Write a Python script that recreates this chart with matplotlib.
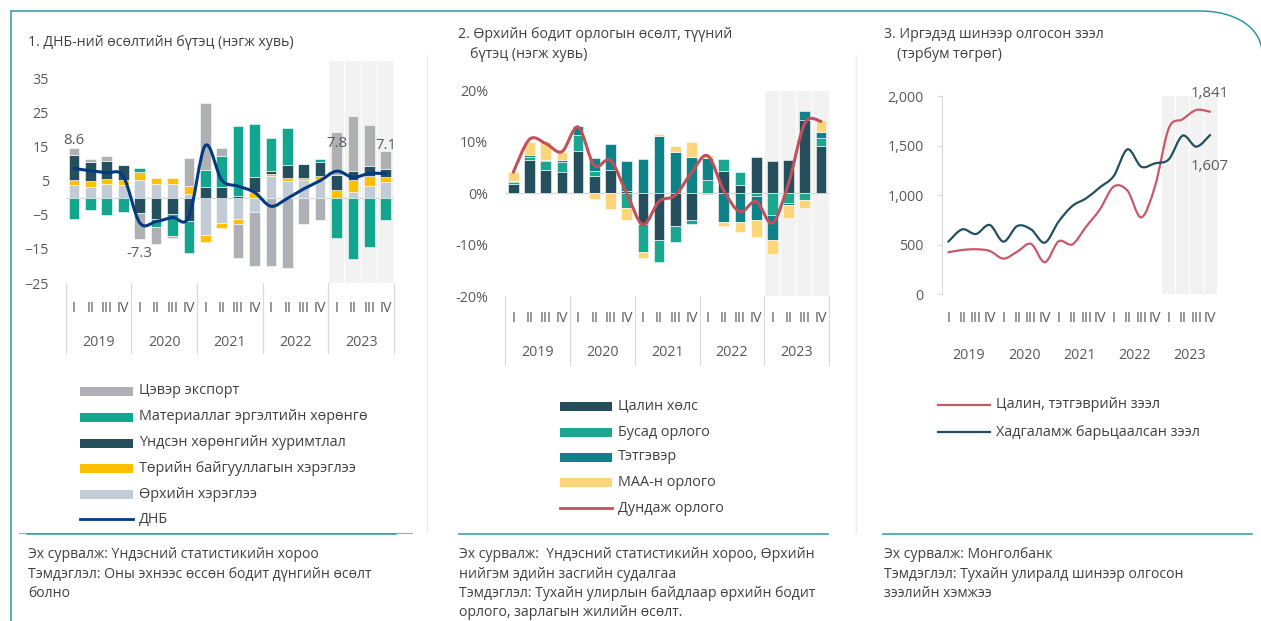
import numpy as np
import matplotlib
matplotlib.use('Agg')
import matplotlib.pyplot as plt
from matplotlib.path import Path
from matplotlib.patches import PathPatch, Rectangle
from matplotlib.lines import Line2D
import matplotlib.transforms as mtransforms

plt.rcParams['font.family'] = ['Open Sans', 'Noto Sans', 'DejaVu Sans']

# ---------------- data ----------------
quarters = ['I', 'II', 'III', 'IV']
years = ['2019', '2020', '2021', '2022', '2023']
highlight_year = '2023'

# Panel 1: GDP growth contributions (pp)
p1_labels = ['Цэвэр экспорт', 'Материаллаг эргэлтийн хөрөнгө', 'Үндсэн хөрөнгийн хуримтлал',
             'Төрийн байгууллагын хэрэглээ', 'Өрхийн хэрэглээ', 'ДНБ']
household = [3.7, 3.2, 3.9, 3.7, 5.3, 4.1, 3.9, 1.2, -10.8, -7.3, -6.2, -4.1, 6.4, 4.9, 5.1, 5.2, 0.0, 1.7, 3.3, 4.7]
government = [1.5, 1.7, 1.7, 1.6, 2.1, 1.7, 1.8, 2.2, -2.2, -1.5, -1.6, 1.6, 0.7, 1.0, 0.8, 1.2, 2.3, 3.5, 3.2, 1.3]
fixed_capital = [7.4, 5.5, 5.1, 4.2, -4.6, -6.1, -4.8, -6.7, 3.0, 3.0, 0.6, 4.6, 0.7, 3.8, 4.1, 4.0, 4.4, 2.7, 2.8, 2.3]
inventories = [-6.3, -3.6, -5.1, -4.1, 1.3, -2.6, -6.4, -9.6, 5.2, 9.3, 20.3, 15.5, 9.8, 10.6, 0.0, 0.9, -11.8, -18.1, -14.4, -6.6]
net_exports = [1.9, 0.9, 1.4, 0.0, -7.5, -4.8, -0.7, 8.2, 19.6, 2.3, -9.9, -15.9, -20.1, -20.5, -7.6, -6.6, 12.6, 16.1, 11.9, 5.3]
gdp = [8.6, 7.9, 7.3, 6.3, -7.3, -7.0, -5.8, -5.6, 15.3, 5.2, 3.4, 1.6, -2.5, -0.2, 2.6, 5.0, 7.8, 6.0, 7.1, 7.1]
gdp_labels = {0: '8.6', 4: '-7.3', 16: '7.8', 19: '7.1'}

# Panel 2: household real income growth contributions (%)
p2_labels = ['Цалин хөлс', 'Бусад орлого', 'Тэтгэвэр', 'МАА-н орлого', 'Дундаж орлого']
wages = [1.75, 6.5, 4.6, 4.1, 8.2, 3.4, 4.5, 0.5, -6.0, -9.1, -6.4, -5.3, -0.2, 4.4, 1.6, 7.0, 6.2, 6.4, 14.3, 9.2]
other_income = [0.4, 0.5, 1.6, 1.9, 3.1, 1.0, 0.0, -2.9, -5.4, -4.2, -3.1, -0.6, 2.5, 2.3, 2.5, -0.5, -4.3, -1.9, -1.4, 1.6]
pension = [0.25, 0.45, 0.3, 0.5, 1.7, 2.5, 5.1, 5.8, 6.6, 11.2, 8.1, 7.1, 4.4, -5.6, -5.6, -4.7, -4.8, -0.3, 1.8, 1.1]
livestock = [1.8, 2.5, 3.4, 1.6, 0.0, -1.1, -3.1, -2.3, -1.3, 0.4, 1.1, 2.9, 0.6, -0.8, -1.9, -3.4, -2.7, -2.7, -1.5, 2.4]
avg_income = [4.1, 10.5, 9.7, 8.1, 12.9, 5.4, 6.4, 0.0, -6.1, -1.6, -0.4, 4.0, 7.3, 0.5, -3.6, -1.6, -5.8, 2.0, 13.6, 14.0]

# Panel 3: new consumer loans (bn MNT)
p3_labels = ['Цалин, тэтгэврийн зээл', 'Хадгаламж барьцаалсан зээл']
salary_loans = [424, 447, 454, 437, 360, 430, 508, 323, 534, 504, 682, 857, 1086, 1045, 776, 1090, 1674, 1765, 1859, 1841]
savings_loans = [531, 655, 608, 699, 531, 689, 655, 521, 733, 891, 968, 1079, 1193, 1462, 1287, 1321, 1361, 1600, 1489, 1607]

# ---------------- styles ----------------
C_NET = '#afb0b4'
C_INV = '#13a68f'
C_FIX = '#264f5e'
C_GOV = '#ffc000'
C_HH = '#c3cbd6'
C_GDP = '#003a80'

C_WAGE = '#264f5e'
C_OTH = '#1ba690'
C_PEN = '#0f8289'
C_LIV = '#ffd57a'
C_AVG = '#c0505a'

C_SAL = '#c8596a'
C_SAV = '#23505f'

TXT = '#404040'
TCK = '#595959'
TEAL = '#2b9aa0'
SHADE = '#f2f2f2'
SEP = '#d9d9d9'

FS_TITLE = 10.2
FS_LEG = 10.4
FS_FOOT = 10.1
FS_TICK = 10.3

W, H = 1261, 621
fig = plt.figure(figsize=(W / 100, H / 100), dpi=100)
PT = 72 / 100  # points per pixel


def rect(x0, y0, x1, y1):
    return [x0 / W, 1 - y1 / H, (x1 - x0) / W, (y1 - y0) / H]


def fx(x):
    return x / W


def fy(y):
    return 1 - y / H


def smooth_line(ax, x, y, color, lw):
    pts = np.column_stack([x, y]).astype(float)
    n = len(pts)
    verts = [pts[0]]
    codes = [Path.MOVETO]
    for i in range(n - 1):
        p0 = pts[i - 1] if i > 0 else pts[i]
        p1 = pts[i]
        p2 = pts[i + 1]
        p3 = pts[i + 2] if i + 2 < n else pts[i + 1]
        verts += [p1 + (p2 - p0) / 6, p2 - (p3 - p1) / 6, p2]
        codes += [Path.CURVE4] * 3
    patch = PathPatch(Path(verts, codes), fill=False, edgecolor=color, lw=lw,
                      capstyle='round', joinstyle='round', zorder=5)
    ax.add_patch(patch)


def stacked_bars(ax, x, series, colors, width):
    pos = np.zeros(len(x))
    neg = np.zeros(len(x))
    for vals, c in zip(series, colors):
        v = np.asarray(vals, dtype=float)
        bottom = np.where(v >= 0, pos, neg)
        ax.bar(x, v, bottom=bottom, width=width, color=c, edgecolor='white', linewidth=0.4, zorder=3)
        pos += np.clip(v, 0, None)
        neg += np.clip(v, None, 0)


def shade(ax, ylo, yhi, width=0.93):
    idx = [i for i in range(len(years) * 4) if years[i // 4] == highlight_year]
    ax.bar(idx, [yhi - ylo] * len(idx), bottom=ylo, width=width, color=SHADE, zorder=0, linewidth=0)


def category_axis(ax, ax_h, q_off, y_off, sep_len, fs=FS_TICK):
    trans = mtransforms.blended_transform_factory(ax.transData, ax.transAxes)
    for i in range(len(years) * 4):
        ax.annotate(quarters[i % 4], xy=(i, 0), xycoords=trans, xytext=(0, -q_off * PT),
                    textcoords='offset points', ha='center', va='center', fontsize=fs, color=TCK)
    for k, yr in enumerate(years):
        ax.annotate(yr, xy=(4 * k + 1.5, 0), xycoords=trans, xytext=(0, -y_off * PT),
                    textcoords='offset points', ha='center', va='center', fontsize=fs, color=TCK)
    if sep_len:
        for b in np.arange(len(years) + 1) * 4 - 0.5:
            ax.plot([b, b], [0, -sep_len / ax_h], transform=trans, clip_on=False, color=SEP, lw=0.8)


x = np.arange(len(years) * 4)

# ---------------- Panel 1 ----------------
ax1 = fig.add_axes(rect(65.8, 61.3, 394, 283))
ylo1, yhi1 = -25, 40
shade(ax1, ylo1, yhi1)
stacked_bars(ax1, x, [household, government, fixed_capital, inventories, net_exports],
             [C_HH, C_GOV, C_FIX, C_INV, C_NET], 0.65)
ax1.axhline(0, color=SEP, lw=1, zorder=2)
smooth_line(ax1, x, gdp, C_GDP, 2.2)
for i, s in gdp_labels.items():
    off = -31 if gdp[i] < 0 else 28
    ax1.annotate(s, xy=(i, gdp[i]), xytext=(0, off * PT), textcoords='offset points',
                 ha='center', va='center', fontsize=10.8, color=TCK, zorder=6)
ax1.set_xlim(-0.5, 19.5)
ax1.set_ylim(ylo1, yhi1)
ax1.set_yticks(np.arange(-25, 36, 10))
ax1.set_xticks([])
ax1.tick_params(axis='y', length=0, pad=17 * PT, labelsize=FS_TICK, labelcolor=TCK)
for s in ax1.spines.values():
    s.set_visible(False)
category_axis(ax1, 221.7, 25, 60, 70)

# ---------------- Panel 2 ----------------
ax2 = fig.add_axes(rect(505.2, 90.5, 829.1, 296))
ylo2, yhi2 = -20, 20
shade(ax2, ylo2, yhi2)
stacked_bars(ax2, x, [wages, other_income, pension, livestock], [C_WAGE, C_OTH, C_PEN, C_LIV], 0.66)
ax2.axhline(0, color=SEP, lw=1, zorder=2)
smooth_line(ax2, x, avg_income, C_AVG, 2.2)
ax2.set_xlim(-0.5, 19.5)
ax2.set_ylim(ylo2, yhi2)
ax2.set_yticks([-20, -10, 0, 10, 20])
ax2.set_yticklabels([f'{v}%' for v in [-20, -10, 0, 10, 20]])
ax2.set_xticks([])
ax2.tick_params(axis='y', length=0, pad=17 * PT, labelsize=FS_TICK, labelcolor=TCK)
for s in ax2.spines.values():
    s.set_visible(False)
category_axis(ax2, 205.5, 22, 57, 69)

# ---------------- Panel 3 ----------------
ax3 = fig.add_axes(rect(941.5, 96, 1217, 294.3))
ylo3, yhi3 = 0, 2000
shade(ax3, ylo3, yhi3)
smooth_line(ax3, x, salary_loans, C_SAL, 1.6)
smooth_line(ax3, x, savings_loans, C_SAV, 1.6)
ax3.annotate(f'{salary_loans[-1]:,}', xy=(19, salary_loans[-1]), xytext=(0, 18 * PT),
             textcoords='offset points', ha='center', va='center', fontsize=10.8, color=TCK)
ax3.annotate(f'{savings_loans[-1]:,}', xy=(19, savings_loans[-1]), xytext=(0, -32 * PT),
             textcoords='offset points', ha='center', va='center', fontsize=10.8, color=TCK)
ax3.set_xlim(-0.5, 19.5)
ax3.set_ylim(ylo3, yhi3)
ax3.set_yticks(np.arange(0, 2001, 500))
ax3.set_yticklabels([f'{v:,}' for v in np.arange(0, 2001, 500)])
ax3.set_xticks([])
ax3.tick_params(axis='y', length=5 * PT, width=0.8, color=SEP, pad=13 * PT, labelsize=FS_TICK, labelcolor=TCK)
for k, s in ax3.spines.items():
    s.set_visible(k == 'left')
ax3.spines['left'].set_color(SEP)
ax3.spines['left'].set_linewidth(0.8)
category_axis(ax3, 198.3, 24, 61, 0)

# ---------------- titles ----------------
fig.text(fx(28), fy(42), '1. ДНБ-ний өсөлтийн бүтэц (нэгж хувь)', fontsize=FS_TITLE, color=TXT, va='center')
fig.text(fx(458), fy(35), '2. Өрхийн бодит орлогын өсөлт, түүний', fontsize=FS_TITLE, color=TXT, va='center')
fig.text(fx(470), fy(55), 'бүтэц (нэгж хувь)', fontsize=FS_TITLE, color=TXT, va='center')
fig.text(fx(884), fy(35), '3. Иргэдэд шинээр олгосон зээл', fontsize=FS_TITLE, color=TXT, va='center')
fig.text(fx(897), fy(55), '(тэрбум төгрөг)', fontsize=FS_TITLE, color=TXT, va='center')

# ---------------- legends (manual) ----------------
def legend_entries(x0, x1, xt, ys, labels, colors, kinds):
    for yv, lab, c, kd in zip(ys, labels, colors, kinds):
        if kd == 'bar':
            fig.add_artist(Rectangle((fx(x0), fy(yv + 4.5)), (x1 - x0) / W, 9 / H,
                                     transform=fig.transFigure, color=c, lw=0))
        else:
            fig.add_artist(Line2D([fx(x0), fx(x1)], [fy(yv), fy(yv)], transform=fig.transFigure,
                                  color=c, lw=2.0 if kd == 'line' else 1.6))
        fig.text(fx(xt), fy(yv), lab, fontsize=FS_LEG, color=TXT, va='center')


legend_entries(80, 133, 139, [391, 417, 443, 468, 494, 519], p1_labels,
               [C_NET, C_INV, C_FIX, C_GOV, C_HH, C_GDP], ['bar'] * 5 + ['line'])
legend_entries(560, 612, 618, [406, 432, 457, 482, 508], p2_labels,
               [C_WAGE, C_OTH, C_PEN, C_LIV, C_AVG], ['bar'] * 4 + ['line'])
legend_entries(938, 990, 996, [405, 432], p3_labels, [C_SAL, C_SAV], ['thin', 'thin'])

# ---------------- footers ----------------
foot1 = ['Эх сурвалж: Үндэсний статистикийн хороо', 'Тэмдэглэл: Оны эхнээс өссөн бодит дүнгийн өсөлт', 'болно']
foot2 = ['Эх сурвалж:  Үндэсний статистикийн хороо, Өрхийн', 'нийгэм эдийн засгийн судалгаа',
         'Тэмдэглэл: Тухайн улирлын байдлаар өрхийн бодит', 'орлого, зарлагын жилийн өсөлт.']
foot3 = ['Эх сурвалж: Монголбанк', 'Тэмдэглэл: Тухайн улиралд шинээр олгосон', 'зээлийн хэмжээ']
for xs, lines in [(28, foot1), (459, foot2), (884, foot3)]:
    for j, t in enumerate(lines):
        fig.text(fx(xs), fy(555 + 19.3 * j), t, fontsize=FS_FOOT, color=TXT, va='center')

# ---------------- frame ----------------
fig.add_artist(Line2D([fx(11), fx(11)], [fy(11), fy(621)], transform=fig.transFigure, color=TEAL, lw=1.1))
frame_path = Path([(fx(11), fy(11)), (fx(1200), fy(11)), (fx(1236), fy(11)), (fx(1261), fy(28)), (fx(1262), fy(52))],
                  [Path.MOVETO, Path.LINETO, Path.CURVE4, Path.CURVE4, Path.CURVE4])
fig.add_artist(PathPatch(frame_path, fill=False, edgecolor=TEAL, lw=1.1, transform=fig.transFigure))
fig.add_artist(Line2D([fx(19), fx(412)], [fy(533), fy(533)], transform=fig.transFigure, color='#a6a6a6', lw=0.8))
for a, b in [(27, 396), (459, 828), (883, 1252)]:
    fig.add_artist(Line2D([fx(a), fx(b)], [fy(534.3), fy(534.3)], transform=fig.transFigure, color=TEAL, lw=1.1))
for xv in [427, 856]:
    fig.add_artist(Line2D([fx(xv), fx(xv)], [fy(55), fy(533)], transform=fig.transFigure, color='#ececec', lw=1.0))

fig.savefig('out.png', dpi=100)
